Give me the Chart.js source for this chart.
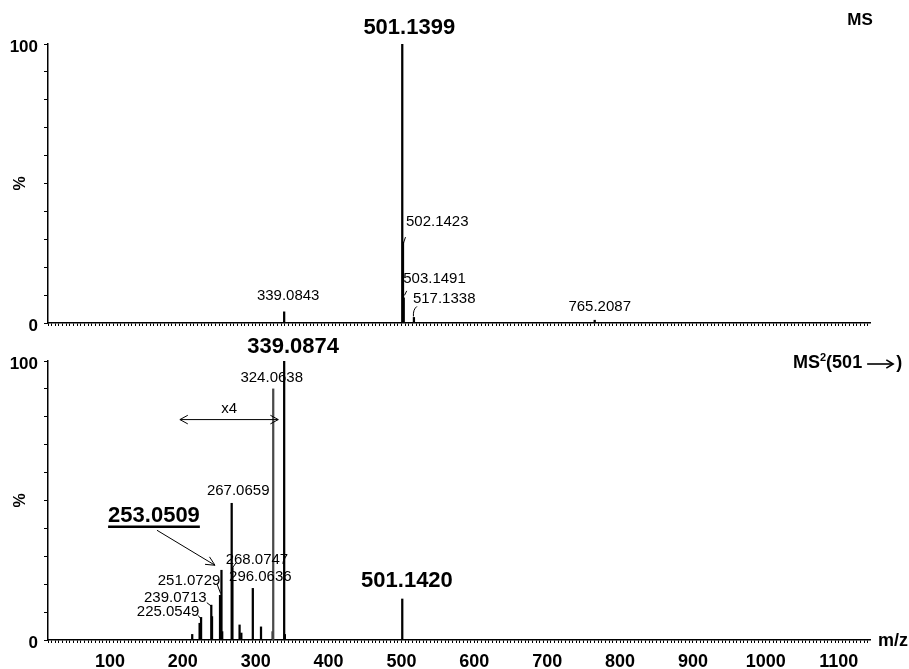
<!DOCTYPE html>
<html>
<head>
<meta charset="utf-8">
<title>MS and MS2 spectra</title>
<script src="https://cdn.jsdelivr.net/npm/chart.js@4.4.1/dist/chart.umd.min.js"></script>
<style>
  html, body { margin: 0; padding: 0; background: #fff; }
  #wrap { position: relative; width: 909px; height: 669px; }
  .panel { position: absolute; left: 0; }
</style>
</head>
<body>
<div id="wrap">
  <div class="panel" style="top:0;"><canvas id="ms" width="909" height="335"></canvas></div>
  <div class="panel" style="top:335px;"><canvas id="ms2" width="909" height="334"></canvas></div>
</div>
<script>
// ---- m/z axis ----
const mzMin = 15;
const mzMax = 1143;
const mzTickLabels = [100, 200, 300, 400, 500, 600, 700, 800, 900, 1000, 1100];
const yTickLabels = [0, 100];

// ---- full-scan MS (relative intensity, %) ----
const msMz  = [339.0843, 501.1399, 502.1423, 503.1491, 517.1338, 765.2087];
const msInt = [4, 100, 29, 9, 2, 1];

// ---- MS2 of precursor m/z 501 (relative intensity, %) ----
const ms2Mz  = [212.9, 223.05, 225.0549, 239.0713, 240.08, 251.0729, 253.0509, 254.05,
                267.0659, 268.0747, 277.9, 280.3, 296.0636, 307.3, 323.3, 324.0638,
                339.0874, 340.09, 501.1420];
const ms2Int = [2, 6, 8.1, 12.5, 8.4, 16, 25, 3,
                49, 26, 5.4, 2.5, 18.5, 4.7, 3, 90,
                100, 2, 14.7];

// magnified window in the MS2 scan
const zoomWindow = [196, 331];
const zoomFactorText = 'x4';

const FONT = '"Liberation Sans", Arial, Helvetica, sans-serif';
const SMALL = '15px ' + FONT;
const BIG = 'bold 22px ' + FONT;

// label placement for annotated peaks (offsets in px from the peak top)
const msLabelStyle = [
  { mz: 501.1399, big: true, dx: 7, dy: -16 },
  { mz: 502.1423, align: 'left', dx: 3, dy: -20, leader: [[0.5, 1], [2.5, -5]] },
  { mz: 503.1491, align: 'left', dx: -0.5, dy: -19, leader: [[0.7, -2.5], [3, -7]] },
  { mz: 517.1338, align: 'left', dx: -1, dy: -18.5, leader: [[-0.5, -1], [-1, -8], [3, -11]] },
  { mz: 339.0843, dx: 4, dy: -16 },
  { mz: 765.2087, dx: 5, dy: -13.5 }
];
const ms2LabelStyle = [
  { mz: 339.0874, big: true, dx: 9, dy: -14.5 },
  { mz: 324.0638, dx: -1.5, dy: -11 },
  { mz: 267.0659, dx: 6.5, dy: -12 },
  { mz: 268.0747, dx: 24.5, dy: -8, leader: [[0.7, -0.5], [3.5, -4.5]] },
  { mz: 296.0636, dx: 7.5, dy: -12 },
  { mz: 253.0509, big: true, underline: true, dx: -67.5, dy: -54, arrow: [[-64.5, -40], [-6.5, -5]] },
  { mz: 251.0729, dx: -31, dy: -14.5, leader: [[0.5, -2], [-2.8, -11]] },
  { mz: 239.0713, dx: -36, dy: -7.5, leader: [[0, 1], [-4.5, -2.5]] },
  { mz: 225.0549, dx: -33, dy: -6, leader: [[-0.2, 1.5], [-3, -2]] },
  { mz: 501.1420, big: true, dx: 4.7, dy: -18.5 }
];

function arrowHead(ctx, x, y, ang, len, spread) {
  ctx.beginPath();
  ctx.moveTo(x - len * Math.cos(ang - spread), y - len * Math.sin(ang - spread));
  ctx.lineTo(x, y);
  ctx.lineTo(x - len * Math.cos(ang + spread), y - len * Math.sin(ang + spread));
  ctx.stroke();
}

function labelPlugin(mzArr, intArr, styles, extras) {
  return {
    id: 'peakLabels',
    afterDatasetsDraw(chart) {
      const { ctx } = chart;
      const xs = chart.scales.x, ys = chart.scales.y;
      ctx.save();
      ctx.fillStyle = '#000';
      ctx.strokeStyle = '#000';
      ctx.lineWidth = 1;
      ctx.textBaseline = 'middle';
      styles.forEach(s => {
        const i = mzArr.indexOf(s.mz);
        if (i < 0) return;
        const px = xs.getPixelForValue(mzArr[i]);
        const py = ys.getPixelForValue(intArr[i]);
        const text = mzArr[i].toFixed(4);
        ctx.font = s.big ? BIG : SMALL;
        ctx.textAlign = s.align || 'center';
        const tx = px + s.dx, ty = py + s.dy;
        ctx.fillText(text, tx, ty);
        if (s.underline) {
          const w = ctx.measureText(text).width;
          const x0 = s.align === 'left' ? tx : tx - w / 2;
          ctx.save();
          ctx.lineWidth = 2.5;
          ctx.beginPath();
          ctx.moveTo(x0, ty + 10.5);
          ctx.lineTo(x0 + w, ty + 10.5);
          ctx.stroke();
          ctx.restore();
        }
        if (s.leader) {
          const p = s.leader;
          ctx.beginPath();
          ctx.moveTo(px + p[0][0], py + p[0][1]);
          if (p.length === 3) {
            ctx.quadraticCurveTo(px + p[1][0], py + p[1][1], px + p[2][0], py + p[2][1]);
          } else {
            ctx.lineTo(px + p[1][0], py + p[1][1]);
          }
          ctx.stroke();
        }
        if (s.arrow) {
          const [a, b] = s.arrow;
          const x1 = px + a[0], y1 = py + a[1], x2 = px + b[0], y2 = py + b[1];
          ctx.beginPath();
          ctx.moveTo(x1, y1);
          ctx.lineTo(x2, y2);
          ctx.stroke();
          arrowHead(ctx, x2, y2, Math.atan2(y2 - y1, x2 - x1), 10, 0.45);
        }
      });
      if (extras) extras(chart, ctx);
      ctx.restore();
    }
  };
}

function makeOptions(showMzLabels, padTop, xHeight) {
  return {
    responsive: false,
    animation: false,
    events: [],
    layout: { padding: { top: padTop, right: 39, left: 0, bottom: 0 } },
    plugins: { legend: { display: false }, tooltip: { enabled: false } },
    scales: {
      x: {
        type: 'linear',
        min: mzMin,
        max: mzMax,
        offset: false,
        grid: { display: true, offset: false, drawOnChartArea: false, drawTicks: true,
                tickLength: 3, tickColor: '#000', tickWidth: 1 },
        border: { display: true, color: '#000', width: 1.5 },
        ticks: {
          stepSize: 5,
          autoSkip: false,
          includeBounds: false,
          maxRotation: 0,
          minRotation: 0,
          padding: 8,
          color: '#000',
          font: { family: FONT, size: 18, weight: 'bold' },
          callback: v => (showMzLabels && mzTickLabels.includes(v)) ? String(v) : ''
        },
        afterFit: s => {
          s.height = xHeight;
          s.paddingLeft = 0; s.paddingRight = 0; s.paddingTop = 0; s.paddingBottom = 0;
        }
      },
      y: {
        min: 0,
        max: 100,
        grid: { display: true, drawOnChartArea: false, drawTicks: true,
                tickLength: 4, tickColor: '#000', tickWidth: 1 },
        border: { display: true, color: '#000', width: 1.5 },
        ticks: {
          stepSize: 10,
          autoSkip: false,
          padding: 6,
          labelOffset: 3,
          color: '#000',
          font: { family: FONT, size: 17, weight: 'bold' },
          callback: v => yTickLabels.includes(v) ? String(v) : ''
        },
        title: {
          display: true,
          text: '%',
          color: '#000',
          font: { family: FONT, size: 16, weight: 'bold', lineHeight: 1.2 },
          padding: { top: 11, bottom: 0 }
        },
        afterFit: s => {
          s.width = 48;
          s.paddingLeft = 0; s.paddingRight = 0; s.paddingTop = 0; s.paddingBottom = 0;
        }
      }
    }
  };
}

function spectrumData(mzArr, intArr) {
  return {
    datasets: [{
      data: mzArr.map((m, i) => ({ x: m, y: intArr[i] })),
      backgroundColor: c => (c.raw && c.raw.x === 324.0638) ? '#4a4a4a' : '#000',
      borderWidth: 0,
      barThickness: 1.6
    }]
  };
}

// ---- upper panel: MS ----
new Chart(document.getElementById('ms'), {
  type: 'bar',
  data: spectrumData(msMz, msInt),
  options: makeOptions(false, 44, 12),
  plugins: [labelPlugin(msMz, msInt, msLabelStyle, (chart, ctx) => {
    const a = chart.chartArea;
    ctx.font = 'bold 17px ' + FONT;
    ctx.textAlign = 'center';
    ctx.fillText('MS', a.right - 10, a.top - 24);
  })]
});

// ---- lower panel: MS2 (501 ->) ----
new Chart(document.getElementById('ms2'), {
  type: 'bar',
  data: spectrumData(ms2Mz, ms2Int),
  options: makeOptions(true, 26, 29),
  plugins: [labelPlugin(ms2Mz, ms2Int, ms2LabelStyle, (chart, ctx) => {
    const a = chart.chartArea;
    const xs = chart.scales.x, ys = chart.scales.y;

    // magnification window arrow
    const xa = xs.getPixelForValue(zoomWindow[0]);
    const xb = xs.getPixelForValue(zoomWindow[1]);
    const yl = ys.getPixelForValue(79);
    ctx.beginPath();
    ctx.moveTo(xa, yl);
    ctx.lineTo(xb, yl);
    ctx.stroke();
    arrowHead(ctx, xa, yl, Math.PI, 9, 0.5);
    arrowHead(ctx, xb, yl, 0, 9, 0.5);
    ctx.font = SMALL;
    ctx.textAlign = 'center';
    ctx.fillText(zoomFactorText, (xa + xb) / 2, yl - 11);

    // scan title: MS2(501 -->)
    const cy = a.top + 2;
    let x = a.right - 77;
    ctx.textAlign = 'left';
    ctx.font = 'bold 18px ' + FONT;
    ctx.fillText('MS', x, cy);
    x += ctx.measureText('MS').width;
    ctx.font = 'bold 11px ' + FONT;
    ctx.fillText('2', x, cy - 5);
    x += ctx.measureText('2').width;
    ctx.font = 'bold 18px ' + FONT;
    ctx.fillText('(501', x, cy);
    x += ctx.measureText('(501').width + 5;
    ctx.save();
    ctx.lineWidth = 1.6;
    ctx.beginPath();
    ctx.moveTo(x, cy + 1);
    ctx.lineTo(x + 26, cy + 1);
    ctx.stroke();
    arrowHead(ctx, x + 26, cy + 1, 0, 8, 0.55);
    ctx.restore();
    x += 29;
    ctx.fillText(')', x, cy);

    // axis name
    ctx.textAlign = 'center';
    ctx.font = 'bold 18px ' + FONT;
    ctx.fillText('m/z', a.right + 23, a.bottom + 1);
  })]
});
</script>
</body>
</html>
